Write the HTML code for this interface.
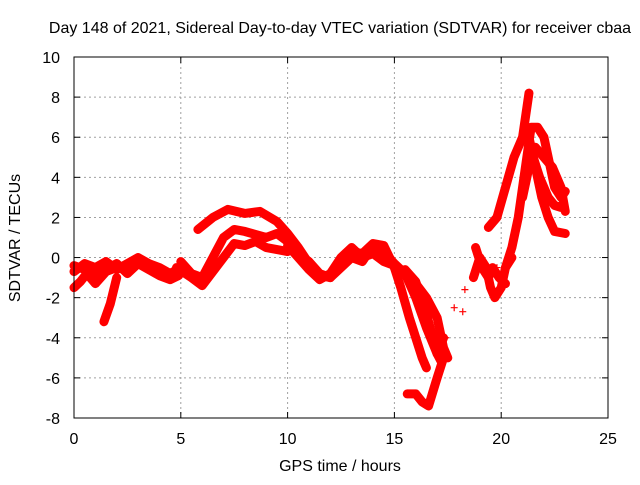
<!DOCTYPE html>
<html><head><meta charset="utf-8"><style>
body{margin:0;background:#fff;}
svg text{font-family:"Liberation Sans",sans-serif;font-size:16px;fill:#000;}
</style></head><body>
<svg id="chart" width="640" height="480" xmlns="http://www.w3.org/2000/svg">
<rect width="640" height="480" fill="#fff"/>
<g id="grid"></g>
<g id="marks"></g>
<rect x="74" y="57" width="534" height="361" fill="none" stroke="#000" stroke-width="1"/>
<g id="ticks"></g>
<text x="340" y="33" text-anchor="middle">Day 148 of 2021, Sidereal Day-to-day VTEC variation (SDTVAR) for receiver cbaa</text>
<text x="340" y="471" text-anchor="middle">GPS time / hours</text>
<text x="20" y="238" text-anchor="middle" transform="rotate(-90 20 238)">SDTVAR / TECUs</text>
</svg>
<script>
const xTicks=[0,5,10,15,20,25];
const yTicks=[-8,-6,-4,-2,0,2,4,6,8,10];
const trackA=[[0,-0.7],[0.5,-0.3],[1,-0.5],[1.5,-0.2],[2,-0.6],[2.5,-0.3],[3,0],[3.5,-0.3],[4,-0.5],[4.5,-0.8],[5,-0.5]];
const trackA1=[[0,-0.4],[0.5,-0.6],[1,-0.9],[1.5,-0.6],[2,-0.3],[2.5,-0.8],[3,-0.3],[3.5,-0.6],[4,-0.9],[4.5,-1.1],[4.9,-0.9]];
const trackA2=[[0,-1.5],[0.3,-1.2],[0.6,-0.8],[1,-1.3],[1.5,-0.7],[2,-0.5]];
const trackA3=[[1.4,-3.2],[1.7,-2.3],[2,-1]];
const trackB1=[[5.8,1.4],[6.5,2.0],[7.2,2.4],[8,2.2],[8.7,2.3],[9.5,1.8],[10,1.2],[10.5,0.5],[11,-0.3],[11.5,-0.9],[12,-1],[12.5,-0.3],[13,0.3],[13.5,0.2],[14,0.7],[14.5,0.6],[15,-0.5]];
const trackB2=[[5,-0.2],[5.5,-0.8],[6,-1],[6.5,0],[7,1],[7.5,1.4],[8,1.3],[9,1.0],[9.5,1.2],[10,0.8],[10.5,0.2],[11,-0.2],[11.5,-0.8],[12,-1.0],[12.5,-0.5],[13,0],[13.5,-0.2],[14,0.6],[14.5,0.3],[15,-0.3],[15.5,-0.8],[16,-2],[16.5,-3.5],[17,-4.8],[17.3,-4.0]];
const trackB3=[[4.8,-0.5],[5.5,-1],[6,-1.4],[7,0],[7.5,0.7],[8,0.6],[8.5,0.8],[9,0.5],[10,0.3]];
const trackB4=[[10,0.6],[10.5,0],[11,-0.6],[11.5,-1.1],[12,-0.8],[12.5,0],[13,0.5],[13.5,0],[14,0.2],[14.5,-0.2],[15,-0.4]];
const trackC1=[[15,-0.5],[15.3,-1.5],[15.7,-3],[16,-4],[16.3,-5],[16.5,-5.5]];
const trackC2=[[15.5,-0.6],[16,-1.2],[16.5,-2.8],[16.8,-4.0],[17,-4.8],[17.2,-5.2]];
const trackC3=[[16,-1.3],[16.5,-2],[17,-3],[17.3,-4.5],[17.5,-5]];
const trackC4=[[15.6,-6.8],[16,-6.8],[16.3,-7.2],[16.6,-7.4],[17,-6],[17.3,-5]];
const trackD=[[18.7,-1],[19,0],[19.3,-0.5],[19.5,-1.5],[19.7,-2],[20,-1.5],[20.2,-0.5],[20.5,0]];
const trackD2=[[18.8,0.5],[19.1,-0.5],[19.4,-1],[19.6,-0.5],[19.9,-1],[20.2,-1.3]];
const trackE1=[[19.4,1.5],[19.8,2],[20.2,3.5],[20.6,5],[21,6],[21.3,8.2]];
const trackE2=[[20.2,-0.5],[20.5,0.5],[20.8,2],[21,3.5],[21.2,5],[21.4,6.5],[21.7,6.5],[22,6],[22.3,4.5],[22.5,3.5],[22.8,3],[23,3.3]];
const trackE3=[[21.3,6],[21.6,4.5],[21.9,3],[22.2,2],[22.5,1.3],[23,1.2]];
const trackE4=[[21.5,5],[21.8,4],[22.2,3],[22.5,2.6],[22.8,2.5]];
const trackE5=[[21,3],[21.3,4.5],[21.6,5.5],[22,5],[22.4,4.5],[22.8,3.5],[23,2.3]];
const scatter=[[17.8,-2.5],[18.2,-2.7],[18.3,-1.6],[17.4,-4],[19.8,-0.5]];
const tracks=[trackA,trackA1,trackA2,trackA3,trackB1,trackB2,trackB3,trackB4,trackC1,trackC2,trackC3,trackC4,trackD,trackD2,trackE1,trackE2,trackE3,trackE4,trackE5];

const X0=74,X1=608,Y0=418,Y1=57;
function sx(v){return X0+(v-0)/(25-0)*(X1-X0);}
function sy(v){return Y0-(v+8)/(10+8)*(Y0-Y1);}
const NS="http://www.w3.org/2000/svg";
const grid=document.getElementById('grid'),ticks=document.getElementById('ticks'),marks=document.getElementById('marks');
function mk(t,a,p){const e=document.createElementNS(NS,t);for(const k in a)e.setAttribute(k,a[k]);p.appendChild(e);return e;}
xTicks.forEach(v=>{const x=sx(v);
 if(v>0&&v<25){const l=mk('line',{x1:x,x2:x,y1:Y1,y2:Y0,stroke:'#a0a0a0','stroke-dasharray':'2,3'},grid);
 
 }
 mk('line',{x1:x,x2:x,y1:Y0,y2:Y0-6,stroke:'#000'},ticks);mk('line',{x1:x,x2:x,y1:Y1,y2:Y1+6,stroke:'#000'},ticks);
 const t=mk('text',{x:x,y:Y0+26,'text-anchor':'middle'},ticks);t.textContent=v;
 
 });
yTicks.forEach(v=>{const y=sy(v);
 if(v>-8&&v<10){const l=mk('line',{x1:X0,x2:X1,y1:y,y2:y,stroke:'#a0a0a0','stroke-dasharray':'2,3'},grid);
 
 }
 mk('line',{x1:X0,x2:X0+6,y1:y,y2:y,stroke:'#000'},ticks);mk('line',{x1:X1,x2:X1-6,y1:y,y2:y,stroke:'#000'},ticks);
 const t=mk('text',{x:X0-14,y:y+6,'text-anchor':'end'},ticks);t.textContent=v;
 
 });
function plus(x,y){mk('path',{d:`M${x-3.5},${y}h7M${x},${y-3.5}v7`,stroke:'#f00','stroke-width':1.2},marks);}
tracks.forEach(tr=>{
 const pl=mk('polyline',{points:tr.map(p=>sx(p[0])+','+sy(p[1])).join(' '),fill:'none',stroke:'#f00','stroke-width':9,'stroke-linejoin':'round','stroke-linecap':'round'},marks);
 
 
 tr.forEach(p=>plus(sx(p[0]),sy(p[1])));});
scatter.forEach(p=>plus(sx(p[0]),sy(p[1])));
</script>
</body></html>
